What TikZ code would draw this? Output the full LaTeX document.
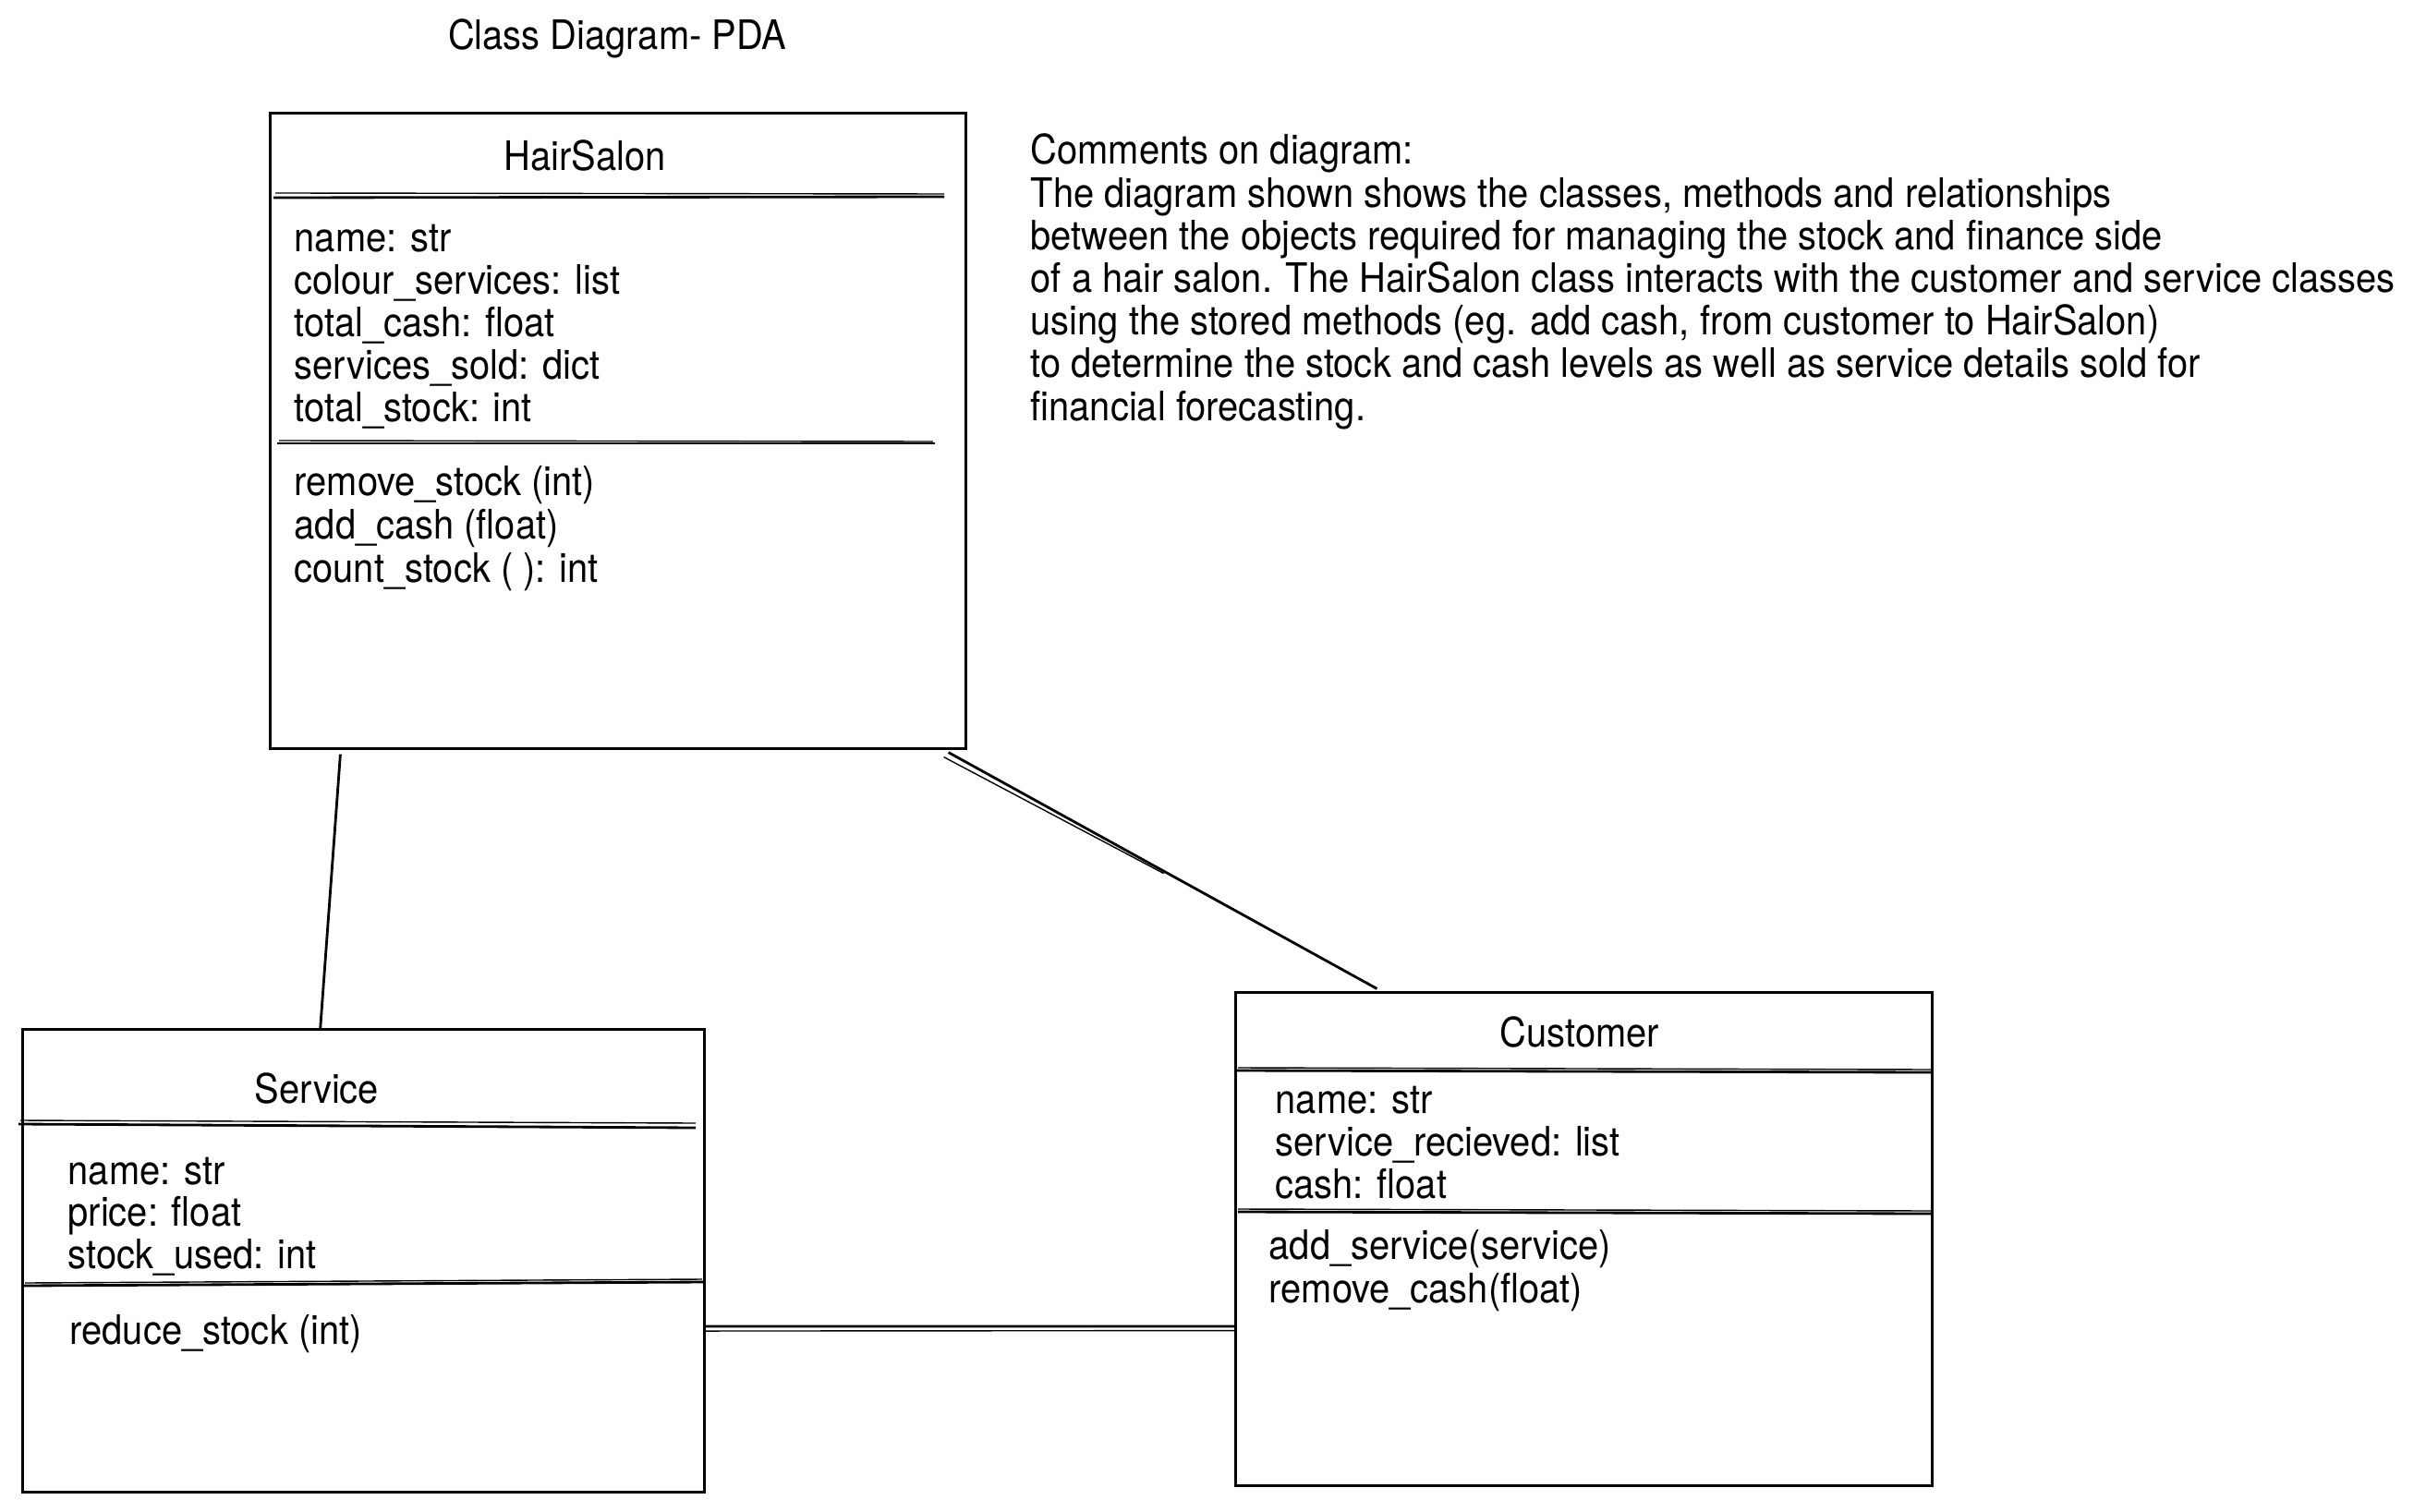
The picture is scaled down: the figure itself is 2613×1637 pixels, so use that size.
\documentclass[tikz,border=0pt]{standalone}
\usepackage{fontspec}
\setmainfont{TeX Gyre Heros}[FakeStretch=0.907]
\begin{document}
\begin{tikzpicture}[x=0.01cm,y=-0.01cm,
  every node/.style={font=\fontsize{12.5}{13}\selectfont, inner sep=0pt},
  txt/.style={anchor=base west},
  ttl/.style={anchor=center},
  classbox/.style={draw, line width=0.8pt, rectangle, inner sep=0pt},
  sepline/.style={line width=0.8pt},
  sketch/.style={line width=0.4pt},
  conn/.style={line width=0.8pt}]
\useasboundingbox (0,0) rectangle (2613,1637);
\fill[white] (0,0) rectangle (2613,1637);

\node[ttl] (title) at (668,42) {Class Diagram- PDA};

% HairSalon
\node[classbox, minimum width=7.52cm, minimum height=6.87cm] (hs) at (669,466.5) {};
\node[ttl] (hst) at (633,168) {HairSalon};
\draw[sepline] (296,214) -- (1022,213);
\draw[sketch] (298,209) -- (1022,210);
\draw[sepline] (300,480) -- (1012,480);
\draw[sketch] (302,477) -- (1010,478);
\foreach \t [count=\i from 0] in {name: str, colour\_services: list, total\_cash: float, services\_sold: dict, total\_stock: int}
  \node[txt] (hsa\i) at (318,{273+46*\i}) {\t};
\foreach \t [count=\i from 0] in {remove\_stock (int), add\_cash (float), count\_stock ( ): int}
  \node[txt] (hsm\i) at (318,{537+46.5*\i}) {\t};

% Service
\node[classbox, minimum width=7.37cm, minimum height=5.00cm] (sv) at (393.5,1365) {};
\node[ttl] (svt) at (343,1178) {Service};
\draw[sepline] (20,1217) -- (753,1221);
\draw[sketch] (22,1213) -- (753,1216);
\draw[sepline] (25,1392) -- (762,1388);
\draw[sketch] (27,1389) -- (760,1385);
\foreach \t [count=\i from 0] in {name: str, price: float, stock\_used: int}
  \node[txt] (sva\i) at (73,{1282+45.5*\i}) {\t};
\node[txt] (svm0) at (75,1455) {reduce\_stock (int)};

% Customer
\node[classbox, minimum width=7.53cm, minimum height=5.33cm] (cu) at (1714.5,1341.5) {};
\node[ttl] (cut) at (1710,1117) {Customer};
\draw[sepline] (1338,1159) -- (2091,1161);
\draw[sketch] (1340,1156) -- (2091,1158);
\draw[sepline] (1340,1312) -- (2091,1314);
\draw[sketch] (1340,1309) -- (2091,1311);
\foreach \t [count=\i from 0] in {name: str, service\_recieved: list, cash: float}
  \node[txt] (cua\i) at (1380,{1205+46*\i}) {\t};
\foreach \t [count=\i from 0] in {add\_service(service), remove\_cash(float)}
  \node[txt] (cum\i) at (1373,{1363+47*\i}) {\t};

% Comments
\foreach \t [count=\i from 0] in {{Comments on diagram:},
  {The diagram shown shows the classes, methods and relationships},
  {between the objects required for managing the stock and finance side},
  {of a hair salon. The HairSalon class interacts with the customer and service classes},
  {using the stored methods (eg. add cash, from customer to HairSalon)},
  {to determine the stock and cash levels as well as service details sold for},
  {financial forecasting.}}
  \node[txt] (cm\i) at (1115,{178+46.2*\i}) {\t};

% Connectors
\draw[conn] ([xshift=0.77cm,yshift=-0.05cm]hs.south west) -- ([xshift=3.23cm,yshift=-0.02cm]sv.north west);
\draw[conn] ([xshift=-0.20cm,yshift=-0.03cm]hs.south east) -- ([xshift=1.54cm,yshift=0.03cm]cu.north west);
\draw[sketch] ([xshift=-0.25cm,yshift=-0.08cm]hs.south east) -- ([xshift=2.13cm,yshift=-1.34cm]hs.south east);
\draw[conn] ([yshift=-0.71cm]sv.east) -- ([yshift=-0.945cm]cu.west);
\draw[sketch] ([yshift=-0.76cm]sv.east) -- ([yshift=-0.99cm]cu.west);
\end{tikzpicture}
\end{document}
